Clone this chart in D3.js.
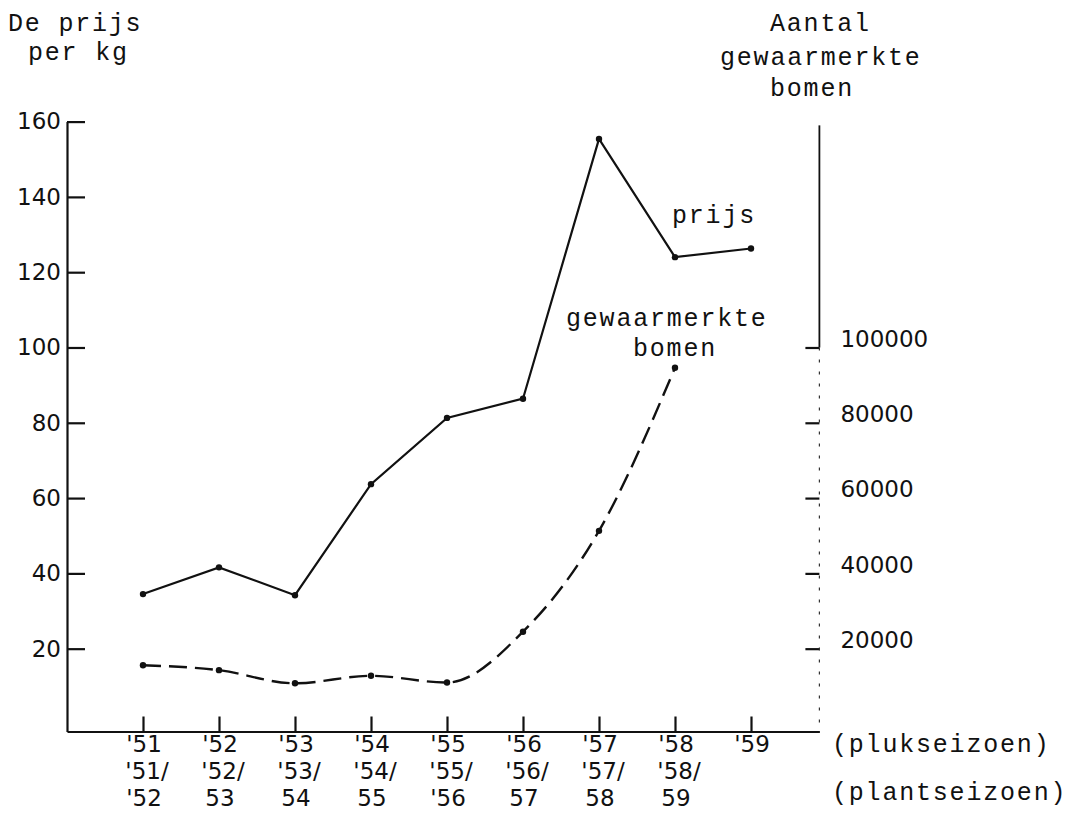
<!DOCTYPE html>
<html>
<head>
<meta charset="utf-8">
<script src="https://cdn.jsdelivr.net/npm/d3@7"></script>
<style>
  body { margin: 0; background: #fff; }
  .type { font-family: "Liberation Mono", monospace; font-size: 25px; letter-spacing: 1.8px; fill: #111; }
  .hand { font-family: "DejaVu Sans", sans-serif; font-size: 23px; fill: #111; }
</style>
</head>
<body>
<svg id="chart" width="1082" height="820"></svg>
<script>
// --- Data ---
const plukseizoen = ["'51", "'52", "'53", "'54", "'55", "'56", "'57", "'58", "'59"];
const plantRow1 = ["'51/", "'52/", "'53/", "'54/", "'55/", "'56/", "'57/", "'58/"];
const plantRow2 = ["'52", "53", "54", "55", "'56", "57", "58", "59"];
const prijs = [34.5, 41.6, 34.2, 63.7, 81.3, 86.4, 155.4, 124.0, 126.3];
const bomen = [15600, 14300, 10800, 12800, 11000, 24500, 51300, 94600];
const leftTicks = [20, 40, 60, 80, 100, 120, 140, 160];
const rightTicks = [20000, 40000, 60000, 80000, 100000];

const svg = d3.select("#chart");

// --- Scales ---
const x = d3.scaleLinear().domain([-1, 8.9]).range([67, 819.4]);
const y = d3.scaleLinear().domain([-2, 160]).range([731.5, 121.6]);
const yR = d3.scaleLinear().domain([-2000, 160000]).range([731.5, 121.6]);

// --- Left axis ---
const gl = svg.append("g")
    .attr("transform", `translate(${x(-1)},0)`)
    .call(d3.axisLeft(y).tickValues(leftTicks).tickSize(-18).tickSizeOuter(0).tickPadding(6));
gl.selectAll("text").attr("class", "hand").attr("font-size", null).attr("font-family", null);
gl.selectAll("line, path").attr("stroke", "#111").attr("stroke-width", 2.2);

// --- Bottom axis ---
const gb = svg.append("g")
    .attr("transform", `translate(0,${y(-2)})`)
    .call(d3.axisBottom(x).tickValues(d3.range(plukseizoen.length)).tickSize(-15).tickSizeOuter(0).tickFormat(""));
gb.selectAll("line, path").attr("stroke", "#111").attr("stroke-width", 2.2);

// --- Right axis ---
const gr = svg.append("g")
    .attr("transform", `translate(${x(8.9)},0)`)
    .call(d3.axisRight(yR).tickValues(rightTicks).tickSize(-14).tickPadding(21).tickFormat(d3.format("d")));
gr.select(".domain").remove();
gr.selectAll("line").attr("stroke", "#111").attr("stroke-width", 2.2);
gr.selectAll("text").attr("class", "hand").attr("font-size", null).attr("font-family", null)
    .attr("dy", "-0.05em");

// right axis line: solid at the top, faint dotted lower down
svg.append("line")
    .attr("x1", x(8.9)).attr("x2", x(8.9))
    .attr("y1", y(159)).attr("y2", y(100))
    .attr("stroke", "#111").attr("stroke-width", 1.8);
svg.append("line")
    .attr("x1", x(8.9)).attr("x2", x(8.9))
    .attr("y1", y(100)).attr("y2", y(-2))
    .attr("stroke", "#333").attr("stroke-width", 1.2)
    .attr("stroke-dasharray", "3,9");

// --- Lines ---
const priceLine = d3.line().x((d, i) => x(i)).y(d => y(d));
svg.append("path")
    .attr("d", priceLine(prijs))
    .attr("fill", "none").attr("stroke", "#111").attr("stroke-width", 2.2);

const treeLine = d3.line().x((d, i) => x(i)).y(d => yR(d)).curve(d3.curveMonotoneX);
svg.append("path")
    .attr("d", treeLine(bomen))
    .attr("fill", "none").attr("stroke", "#111").attr("stroke-width", 2.4)
    .attr("stroke-dasharray", "18,8");

svg.selectAll(".pp").data(prijs).enter().append("circle")
    .attr("cx", (d, i) => x(i)).attr("cy", d => y(d)).attr("r", 3.2).attr("fill", "#111");
svg.selectAll(".bp").data(bomen).enter().append("circle")
    .attr("cx", (d, i) => x(i)).attr("cy", d => yR(d)).attr("r", 3.2).attr("fill", "#111");

// --- Season labels under the x axis ---
svg.selectAll(".r1").data(plukseizoen).enter().append("text")
    .attr("class", "hand").attr("x", (d, i) => x(i) + 1).attr("y", 752)
    .attr("text-anchor", "middle").text(d => d);
svg.selectAll(".r2").data(plantRow1).enter().append("text")
    .attr("class", "hand").attr("x", (d, i) => x(i) + 4).attr("y", 779)
    .attr("text-anchor", "middle").text(d => d);
svg.selectAll(".r3").data(plantRow2).enter().append("text")
    .attr("class", "hand").attr("x", (d, i) => x(i) + 1).attr("y", 806)
    .attr("text-anchor", "middle").text(d => d);

// --- Typewritten titles ---
const type = (tx, ty, s) => svg.append("text").attr("class", "type").attr("x", tx).attr("y", ty).text(s);
type(8, 31, "De prijs");
type(28, 60, "per kg");
type(770, 31, "Aantal");
type(720, 65, "gewaarmerkte");
type(770, 96, "bomen");
type(672, 223, "prijs");
type(566, 326, "gewaarmerkte");
type(633, 356, "bomen");
type(832, 752, "(plukseizoen)");
type(832, 800, "(plantseizoen)");
</script>
</body>
</html>
